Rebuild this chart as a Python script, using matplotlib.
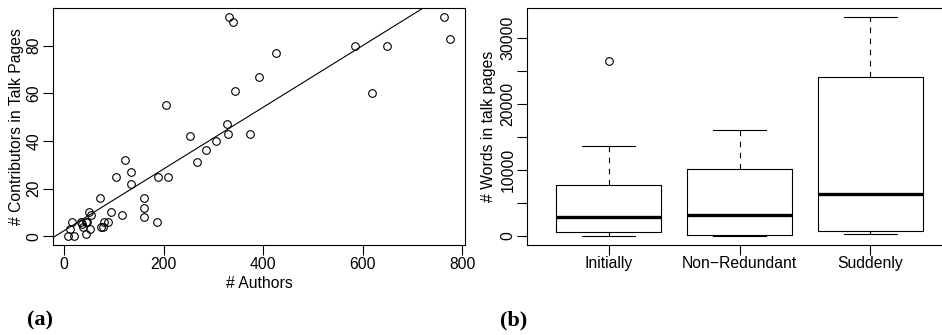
import numpy as np
import matplotlib
matplotlib.use('Agg')
from matplotlib import pyplot as plt

# (a) scatter: authors vs contributors in talk pages
authors = [8, 20, 11, 15, 33, 36, 38, 43, 44, 46, 51, 50, 53, 71, 74, 77, 80, 87,
           93, 103, 117, 123, 134, 135, 160, 160, 160, 186, 189, 204, 208, 253, 267,
           285, 305, 327, 330, 332, 340, 344, 373, 391, 426, 584, 618, 649, 763, 775]
contributors = [0, 0, 3, 6, 6, 5, 4, 6, 1, 6, 3, 10, 9, 16, 4, 4, 6, 6,
                10, 25, 9, 32, 22, 27, 16, 12, 8, 6, 25, 55, 25, 42, 31,
                36, 40, 47, 43, 92, 90, 61, 43, 67, 77, 80, 60, 80, 92, 83]

# (b) boxplot: words in talk pages
groups = ['Initially', 'Non\u2212Redundant', 'Suddenly']
whislo = [0, 30, 300]
q1 = [600, 90, 750]
med = [2870, 3170, 6290]
q3 = [7650, 10060, 24110]
whishi = [13600, 15950, 33130]
fliers = [[26400], [], []]

plt.rcParams['font.family'] = ['Liberation Sans', 'DejaVu Sans']
plt.rcParams['font.size'] = 11.3

W, H = 942, 335
fig = plt.figure(figsize=(W/100, H/100), dpi=100)

def style(ax):
    for s in ax.spines.values():
        s.set_linewidth(0.8)
    ax.tick_params(direction='out', length=7.5, width=0.8, labelsize=11.3, pad=1.0)
    for lab in ax.get_yticklabels():
        lab.set_rotation(90)
        lab.set_va('center')

# ---- (a)
ax = fig.add_axes([53/W, 1-245/H, (465-53)/W, (245-8.3)/H])
ax.plot(authors, contributors, linestyle='', marker='o', markersize=5.5,
        markerfacecolor='none', markeredgecolor='black', markeredgewidth=0.8)
slope, icept = np.polyfit(authors, contributors, 1)
xr = np.array([-100, 900])
ax.plot(xr, icept + slope*xr, color='black', linewidth=0.8)
rx = max(authors) - min(authors)
ry = max(contributors) - min(contributors)
ax.set_xlim(min(authors) - 0.04*rx, max(authors) + 0.04*rx)
ax.set_ylim(min(contributors) - 0.04*ry, max(contributors) + 0.04*ry)
ax.set_xticks([0, 200, 400, 600, 800])
ax.set_yticks([0, 20, 40, 60, 80])
ax.set_xlabel('# Authors', labelpad=3)
ax.set_ylabel('# Contributors in Talk Pages', labelpad=1.5)
style(ax)

# ---- (b)
bx = fig.add_axes([527.3/W, 1-244.5/H, 424.4/W, (244.5-8.3)/H])
stats = []
for i in range(len(groups)):
    stats.append(dict(label=groups[i], whislo=whislo[i], q1=q1[i], med=med[i],
                      q3=q3[i], whishi=whishi[i], fliers=fliers[i]))
bx.bxp(stats, positions=[1, 2, 3], widths=0.8, showfliers=True,
       boxprops=dict(color='black', linewidth=0.8),
       medianprops=dict(color='black', linewidth=2.4, solid_capstyle='butt'),
       whiskerprops=dict(color='black', linewidth=0.8, linestyle=(0, (5, 5))),
       capprops=dict(color='black', linewidth=0.8),
       capwidths=0.4,
       flierprops=dict(marker='o', markersize=5.5, markerfacecolor='none',
                       markeredgecolor='black', markeredgewidth=0.8))
lo = min(whislo)
hi = max(max(whishi), max(max(f) for f in fliers if f))
bx.set_xlim(0.38, 3.62)
bx.set_ylim(lo - 0.04*(hi-lo), hi + 0.04*(hi-lo))
yt = [0, 5000, 10000, 15000, 20000, 25000, 30000]
bx.set_yticks(yt)
bx.set_yticklabels([str(v) if v % 10000 == 0 else '' for v in yt])
bx.set_xticks([1, 2, 3])
bx.set_xticklabels(groups)
bx.set_ylabel('# Words in talk pages', labelpad=3)
style(bx)

serif = dict(family=['Liberation Serif', 'DejaVu Serif'], fontweight='bold', fontsize=16)
fig.text(27/W, 1-320/H, '(a)', va='center', ha='left', **serif)
fig.text(500/W, 1-320/H, '(b)', va='center', ha='left', **serif)

fig.savefig('out.png', dpi=100)
